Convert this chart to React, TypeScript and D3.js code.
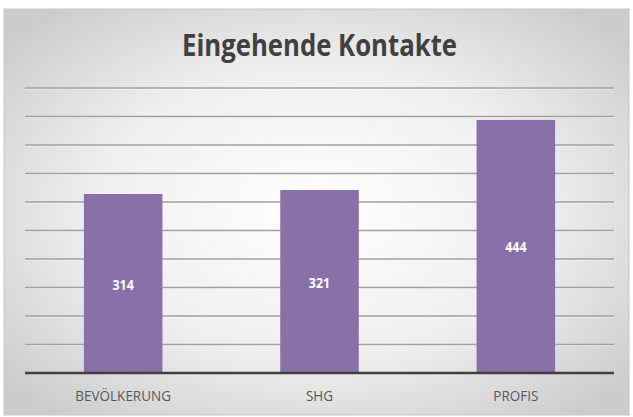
import React from "react";
import * as d3 from "d3";

const categories = ["BEVÖLKERUNG", "SHG", "PROFIS"];
const values = [314, 321, 444];
const yTicks = [0, 50, 100, 150, 200, 250, 300, 350, 400, 450, 500];
const title = "Eingehende Kontakte";

export default function App() {
  const width = 633;
  const height = 417;
  const frame = { x: 4, y: 9, w: 625, h: 406 };
  const plot = { left: 25, right: 614, top: 88, bottom: 373 };

  const x = d3
    .scaleBand()
    .domain(categories)
    .range([plot.left, plot.right])
    .paddingInner(0.6)
    .paddingOuter(0.3);

  const y = d3.scaleLinear().domain([0, 500]).range([plot.bottom, plot.top]);

  return (
    <svg
      width={width}
      height={height}
      style={{ position: "absolute", left: 0, top: 0, fontFamily: "'Open Sans', sans-serif" }}
    >
      <defs>
        <radialGradient id="bg" cx="50%" cy="50%" r="65%">
          <stop offset="0%" stopColor="#ffffff" />
          <stop offset="55%" stopColor="#efefef" />
          <stop offset="100%" stopColor="#cccccc" />
        </radialGradient>
      </defs>
      <rect width={width} height={height} fill="#ffffff" />
      <rect
        x={frame.x}
        y={frame.y}
        width={frame.w}
        height={frame.h}
        fill="url(#bg)"
        stroke="#c8c8c8"
      />
      <text
        x={319.5}
        y={56}
        textAnchor="middle"
        fontSize={31}
        fontWeight="bold"
        fill="#404040"
        textLength={275}
        lengthAdjust="spacingAndGlyphs"
      >
        {title}
      </text>

      {/* gridlines */}
      {yTicks.slice(1).map((t) => (
        <g key={t}>
          <line x1={plot.left} x2={plot.right} y1={y(t) + 1} y2={y(t) + 1} stroke="#ffffff" strokeWidth={1} opacity={0.7} />
          <line x1={plot.left} x2={plot.right} y1={y(t)} y2={y(t)} stroke="#a0a0a0" strokeWidth={1.3} />
        </g>
      ))}

      {/* bars */}
      {categories.map((c, i) => (
        <rect
          key={c}
          x={x(c)}
          y={y(values[i])}
          width={x.bandwidth()}
          height={y(0) - y(values[i])}
          fill="#8a70a9"
        />
      ))}

      {/* value labels */}
      {categories.map((c, i) => (
        <text
          key={c}
          transform={`translate(${(x(c) ?? 0) + x.bandwidth() / 2},${(y(values[i]) + y(0)) / 2 + 6}) scale(0.92,1)`}
          textAnchor="middle"
          fontSize={13.5}
          fontWeight="bold"
          fill="#ffffff"
        >
          {values[i]}
        </text>
      ))}

      {/* axis */}
      <line x1={plot.left} x2={plot.right} y1={plot.bottom} y2={plot.bottom} stroke="#404040" strokeWidth={2.5} />
      {categories.map((c) => (
        <text
          key={c}
          transform={`translate(${(x(c) ?? 0) + x.bandwidth() / 2},401) scale(0.9,1)`}
          textAnchor="middle"
          fontSize={15}
          fill="#595959"
        >
          {c}
        </text>
      ))}
    </svg>
  );
}
